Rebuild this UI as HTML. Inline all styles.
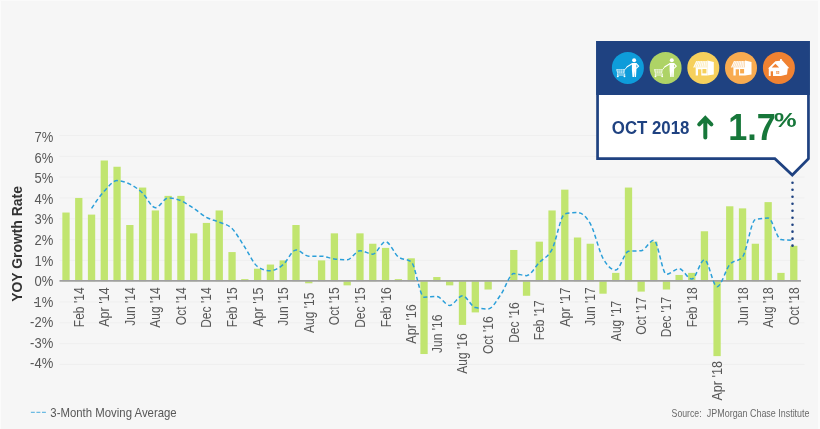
<!DOCTYPE html>
<html lang="en"><head><meta charset="utf-8"><title>YOY Growth Rate</title>
<style>html,body{margin:0;padding:0;background:#f6f6f6;}body{width:820px;height:429px;overflow:hidden;}svg{display:block;filter:blur(0.35px);}</style>
</head><body>
<svg width="820" height="429" viewBox="0 0 820 429" font-family='"Liberation Sans", Arial, sans-serif'>
<rect width="820" height="429" fill="#f6f6f6"/>
<rect x="0" y="0" width="1" height="429" fill="#fbfbfb"/><rect x="0" y="0" width="820" height="1" fill="#fafafa"/><rect x="818" y="0" width="2" height="429" fill="#fbfbfb"/>
<line x1="59.5" x2="804.5" y1="364.44" y2="364.44" stroke="#efefef" stroke-width="1"/>
<line x1="59.5" x2="804.5" y1="343.63" y2="343.63" stroke="#efefef" stroke-width="1"/>
<line x1="59.5" x2="804.5" y1="322.82" y2="322.82" stroke="#efefef" stroke-width="1"/>
<line x1="59.5" x2="804.5" y1="302.01" y2="302.01" stroke="#efefef" stroke-width="1"/>
<line x1="59.5" x2="804.5" y1="260.39" y2="260.39" stroke="#efefef" stroke-width="1"/>
<line x1="59.5" x2="804.5" y1="239.58" y2="239.58" stroke="#efefef" stroke-width="1"/>
<line x1="59.5" x2="804.5" y1="218.77" y2="218.77" stroke="#efefef" stroke-width="1"/>
<line x1="59.5" x2="804.5" y1="197.96" y2="197.96" stroke="#efefef" stroke-width="1"/>
<line x1="59.5" x2="804.5" y1="177.15" y2="177.15" stroke="#efefef" stroke-width="1"/>
<line x1="59.5" x2="804.5" y1="156.34" y2="156.34" stroke="#efefef" stroke-width="1"/>
<line x1="59.5" x2="804.5" y1="135.53" y2="135.53" stroke="#efefef" stroke-width="1"/>
<rect x="62.35" y="212.53" width="7.3" height="68.67" fill="#c1e56f"/>
<rect x="75.12" y="197.96" width="7.3" height="83.24" fill="#c1e56f"/>
<rect x="87.89" y="214.61" width="7.3" height="66.59" fill="#c1e56f"/>
<rect x="100.65" y="160.50" width="7.3" height="120.70" fill="#c1e56f"/>
<rect x="113.42" y="166.75" width="7.3" height="114.45" fill="#c1e56f"/>
<rect x="126.19" y="225.01" width="7.3" height="56.19" fill="#c1e56f"/>
<rect x="138.96" y="187.56" width="7.3" height="93.64" fill="#c1e56f"/>
<rect x="151.73" y="210.45" width="7.3" height="70.75" fill="#c1e56f"/>
<rect x="164.49" y="195.88" width="7.3" height="85.32" fill="#c1e56f"/>
<rect x="177.26" y="195.88" width="7.3" height="85.32" fill="#c1e56f"/>
<rect x="190.03" y="233.34" width="7.3" height="47.86" fill="#c1e56f"/>
<rect x="202.80" y="222.93" width="7.3" height="58.27" fill="#c1e56f"/>
<rect x="215.59" y="210.45" width="7.3" height="70.75" fill="#c1e56f"/>
<rect x="228.39" y="252.07" width="7.3" height="29.13" fill="#c1e56f"/>
<rect x="241.18" y="279.12" width="7.3" height="2.08" fill="#c1e56f"/>
<rect x="253.97" y="268.71" width="7.3" height="12.49" fill="#c1e56f"/>
<rect x="266.77" y="264.55" width="7.3" height="16.65" fill="#c1e56f"/>
<rect x="279.56" y="260.39" width="7.3" height="20.81" fill="#c1e56f"/>
<rect x="292.35" y="225.01" width="7.3" height="56.19" fill="#c1e56f"/>
<rect x="305.15" y="281.20" width="7.3" height="2.08" fill="#c1e56f"/>
<rect x="317.94" y="260.39" width="7.3" height="20.81" fill="#c1e56f"/>
<rect x="330.74" y="233.34" width="7.3" height="47.86" fill="#c1e56f"/>
<rect x="343.53" y="281.20" width="7.3" height="4.16" fill="#c1e56f"/>
<rect x="356.32" y="233.34" width="7.3" height="47.86" fill="#c1e56f"/>
<rect x="369.12" y="243.74" width="7.3" height="37.46" fill="#c1e56f"/>
<rect x="381.91" y="247.90" width="7.3" height="33.30" fill="#c1e56f"/>
<rect x="394.73" y="279.12" width="7.3" height="2.08" fill="#c1e56f"/>
<rect x="407.55" y="258.31" width="7.3" height="22.89" fill="#c1e56f"/>
<rect x="420.38" y="281.20" width="7.3" height="72.83" fill="#c1e56f"/>
<rect x="433.20" y="277.04" width="7.3" height="4.16" fill="#c1e56f"/>
<rect x="446.02" y="281.20" width="7.3" height="4.16" fill="#c1e56f"/>
<rect x="458.84" y="281.20" width="7.3" height="43.70" fill="#c1e56f"/>
<rect x="471.66" y="281.20" width="7.3" height="31.21" fill="#c1e56f"/>
<rect x="484.49" y="281.20" width="7.3" height="8.32" fill="#c1e56f"/>
<rect x="510.13" y="249.98" width="7.3" height="31.22" fill="#c1e56f"/>
<rect x="522.89" y="281.20" width="7.3" height="14.57" fill="#c1e56f"/>
<rect x="535.64" y="241.66" width="7.3" height="39.54" fill="#c1e56f"/>
<rect x="548.40" y="210.45" width="7.3" height="70.75" fill="#c1e56f"/>
<rect x="561.15" y="189.64" width="7.3" height="91.56" fill="#c1e56f"/>
<rect x="573.89" y="237.50" width="7.3" height="43.70" fill="#c1e56f"/>
<rect x="586.63" y="243.74" width="7.3" height="37.46" fill="#c1e56f"/>
<rect x="599.37" y="281.20" width="7.3" height="12.49" fill="#c1e56f"/>
<rect x="612.10" y="272.88" width="7.3" height="8.32" fill="#c1e56f"/>
<rect x="624.84" y="187.56" width="7.3" height="93.64" fill="#c1e56f"/>
<rect x="637.50" y="281.20" width="7.3" height="10.40" fill="#c1e56f"/>
<rect x="650.15" y="241.66" width="7.3" height="39.54" fill="#c1e56f"/>
<rect x="662.81" y="281.20" width="7.3" height="8.32" fill="#c1e56f"/>
<rect x="675.46" y="274.96" width="7.3" height="6.24" fill="#c1e56f"/>
<rect x="688.12" y="272.88" width="7.3" height="8.32" fill="#c1e56f"/>
<rect x="700.78" y="231.26" width="7.3" height="49.94" fill="#c1e56f"/>
<rect x="713.43" y="281.20" width="7.3" height="74.92" fill="#c1e56f"/>
<rect x="726.09" y="206.28" width="7.3" height="74.92" fill="#c1e56f"/>
<rect x="738.89" y="208.37" width="7.3" height="72.83" fill="#c1e56f"/>
<rect x="751.70" y="243.74" width="7.3" height="37.46" fill="#c1e56f"/>
<rect x="764.51" y="202.12" width="7.3" height="79.08" fill="#c1e56f"/>
<rect x="777.32" y="272.88" width="7.3" height="8.32" fill="#c1e56f"/>
<rect x="790.13" y="245.82" width="7.3" height="35.38" fill="#c1e56f"/>
<line x1="59.5" x2="801" y1="280.95" y2="280.95" stroke="#a0a0a0" stroke-width="1.8"/>
<path d="M91.54,208.37 C95.79,202.01 100.05,195.65 104.30,191.02 C108.56,186.40 112.82,180.62 117.07,180.62 C121.33,180.62 125.58,182.01 129.84,184.09 C134.10,186.17 138.35,189.17 142.61,193.10 C146.86,197.04 151.12,207.67 155.38,207.67 C159.63,207.67 163.89,197.96 168.14,197.96 C172.40,197.96 176.66,199.00 180.91,200.73 C185.17,202.47 189.42,205.59 193.68,208.37 C197.94,211.14 202.19,215.07 206.45,217.38 C210.71,219.70 214.98,220.39 219.24,222.24 C223.51,224.09 227.77,224.32 232.04,228.48 C236.30,232.64 240.56,240.85 244.83,247.21 C249.09,253.57 253.36,263.86 257.62,266.63 C261.89,269.41 266.15,270.80 270.42,270.80 C274.68,270.80 278.95,268.02 283.21,264.55 C287.47,261.08 291.74,249.98 296.00,249.98 C300.27,249.98 304.53,256.23 308.80,256.23 C313.06,256.23 317.33,256.23 321.59,256.23 C325.86,256.23 330.12,258.54 334.39,259.00 C338.65,259.47 342.91,259.70 347.18,259.70 C351.44,259.70 355.71,250.68 359.97,250.68 C364.24,250.68 368.50,254.15 372.77,254.15 C377.03,254.15 381.30,241.66 385.56,241.66 C389.83,241.66 394.11,253.68 398.38,256.92 C402.66,260.16 406.93,258.54 411.20,261.78 C415.48,265.01 419.75,297.15 424.03,297.15 C428.30,297.15 432.57,296.46 436.85,296.46 C441.12,296.46 445.40,305.48 449.67,305.48 C453.94,305.48 458.22,295.77 462.49,295.77 C466.77,295.77 471.04,306.63 475.31,307.56 C479.59,308.48 483.86,308.95 488.14,308.95 C492.41,308.95 496.68,300.28 500.96,294.38 C505.23,288.48 509.51,273.57 513.78,273.57 C518.03,273.57 522.28,275.65 526.54,275.65 C530.79,275.65 535.04,266.86 539.29,262.47 C543.54,258.08 547.79,257.38 552.05,249.29 C556.30,241.20 560.55,214.84 564.80,213.91 C569.05,212.99 573.29,212.53 577.54,212.53 C581.79,212.53 586.03,216.23 590.28,223.63 C594.52,231.02 598.77,250.56 603.02,258.31 C607.26,266.05 611.51,270.10 615.75,270.10 C620.00,270.10 624.25,251.84 628.49,251.37 C632.71,250.91 636.93,251.14 641.15,250.68 C645.37,250.22 649.58,240.27 653.80,240.27 C658.02,240.27 662.24,274.26 666.46,274.26 C670.68,274.26 674.90,268.71 679.11,268.71 C683.33,268.71 687.55,279.12 691.77,279.12 C695.99,279.12 700.21,259.70 704.43,259.70 C708.64,259.70 712.86,286.75 717.08,286.75 C721.30,286.75 725.52,269.51 729.74,264.55 C734.01,259.54 738.27,262.01 742.54,256.92 C746.81,251.83 751.08,220.39 755.35,219.46 C759.62,218.54 763.89,218.08 768.16,218.08 C772.43,218.08 776.70,239.12 780.97,239.58 C785.24,240.04 789.51,240.16 793.78,240.27" fill="none" stroke="#2b9fd9" stroke-width="1.5" stroke-dasharray="4.2 2.8"/>
<text transform="translate(53.2,368.49) scale(0.93,1)" text-anchor="end" font-size="14" fill="#585858">-4%</text>
<text transform="translate(53.2,347.90) scale(0.93,1)" text-anchor="end" font-size="14" fill="#585858">-3%</text>
<text transform="translate(53.2,327.31) scale(0.93,1)" text-anchor="end" font-size="14" fill="#585858">-2%</text>
<text transform="translate(33.5,306.72) scale(0.93,1)" font-size="14" fill="#585858">-</text>
<text transform="translate(53.2,306.72) scale(0.93,1)" text-anchor="end" font-size="14" fill="#585858">1%</text>
<text transform="translate(53.2,286.13) scale(0.93,1)" text-anchor="end" font-size="14" fill="#585858">0%</text>
<text transform="translate(53.2,265.54) scale(0.93,1)" text-anchor="end" font-size="14" fill="#585858">1%</text>
<text transform="translate(53.2,244.95) scale(0.93,1)" text-anchor="end" font-size="14" fill="#585858">2%</text>
<text transform="translate(53.2,224.36) scale(0.93,1)" text-anchor="end" font-size="14" fill="#585858">3%</text>
<text transform="translate(53.2,203.77) scale(0.93,1)" text-anchor="end" font-size="14" fill="#585858">4%</text>
<text transform="translate(53.2,183.18) scale(0.93,1)" text-anchor="end" font-size="14" fill="#585858">5%</text>
<text transform="translate(53.2,162.59) scale(0.93,1)" text-anchor="end" font-size="14" fill="#585858">6%</text>
<text transform="translate(53.2,142.00) scale(0.93,1)" text-anchor="end" font-size="14" fill="#585858">7%</text>
<text transform="translate(21.9,244) rotate(-90) scale(0.928,1)" text-anchor="middle" font-size="15" font-weight="bold" fill="#333">YOY Growth Rate</text>
<text transform="translate(83.77,287.40) rotate(-90) scale(0.86,1)" text-anchor="end" font-size="14" fill="#585858">Feb '14</text>
<text transform="translate(109.30,287.40) rotate(-90) scale(0.9,1)" text-anchor="end" font-size="14" fill="#585858">Apr '14</text>
<text transform="translate(134.84,287.40) rotate(-90) scale(0.86,1)" text-anchor="end" font-size="14" fill="#585858">Jun '14</text>
<text transform="translate(160.38,287.40) rotate(-90) scale(0.86,1)" text-anchor="end" font-size="14" fill="#585858">Aug '14</text>
<text transform="translate(185.91,287.40) rotate(-90) scale(0.86,1)" text-anchor="end" font-size="14" fill="#585858">Oct '14</text>
<text transform="translate(211.45,287.40) rotate(-90) scale(0.86,1)" text-anchor="end" font-size="14" fill="#585858">Dec '14</text>
<text transform="translate(237.04,287.40) rotate(-90) scale(0.86,1)" text-anchor="end" font-size="14" fill="#585858">Feb '15</text>
<text transform="translate(262.62,287.40) rotate(-90) scale(0.9,1)" text-anchor="end" font-size="14" fill="#585858">Apr '15</text>
<text transform="translate(288.21,287.40) rotate(-90) scale(0.86,1)" text-anchor="end" font-size="14" fill="#585858">Jun '15</text>
<text transform="translate(313.80,292.50) rotate(-90) scale(0.86,1)" text-anchor="end" font-size="14" fill="#585858">Aug '15</text>
<text transform="translate(339.39,287.40) rotate(-90) scale(0.86,1)" text-anchor="end" font-size="14" fill="#585858">Oct '15</text>
<text transform="translate(364.97,287.40) rotate(-90) scale(0.86,1)" text-anchor="end" font-size="14" fill="#585858">Dec '15</text>
<text transform="translate(390.56,287.40) rotate(-90) scale(0.86,1)" text-anchor="end" font-size="14" fill="#585858">Feb '16</text>
<text transform="translate(416.20,304.20) rotate(-90) scale(0.9,1)" text-anchor="end" font-size="14" fill="#585858">Apr '16</text>
<text transform="translate(441.85,314.60) rotate(-90) scale(0.86,1)" text-anchor="end" font-size="14" fill="#585858">Jun '16</text>
<text transform="translate(467.49,333.30) rotate(-90) scale(0.86,1)" text-anchor="end" font-size="14" fill="#585858">Aug '16</text>
<text transform="translate(493.14,316.30) rotate(-90) scale(0.86,1)" text-anchor="end" font-size="14" fill="#585858">Oct '16</text>
<text transform="translate(518.78,302.40) rotate(-90) scale(0.86,1)" text-anchor="end" font-size="14" fill="#585858">Dec '16</text>
<text transform="translate(544.29,300.40) rotate(-90) scale(0.86,1)" text-anchor="end" font-size="14" fill="#585858">Feb '17</text>
<text transform="translate(569.80,287.40) rotate(-90) scale(0.9,1)" text-anchor="end" font-size="14" fill="#585858">Apr '17</text>
<text transform="translate(595.28,287.40) rotate(-90) scale(0.86,1)" text-anchor="end" font-size="14" fill="#585858">Jun '17</text>
<text transform="translate(620.75,300.70) rotate(-90) scale(0.86,1)" text-anchor="end" font-size="14" fill="#585858">Aug '17</text>
<text transform="translate(646.15,297.00) rotate(-90) scale(0.86,1)" text-anchor="end" font-size="14" fill="#585858">Oct '17</text>
<text transform="translate(671.46,296.80) rotate(-90) scale(0.86,1)" text-anchor="end" font-size="14" fill="#585858">Dec '17</text>
<text transform="translate(696.77,287.40) rotate(-90) scale(0.86,1)" text-anchor="end" font-size="14" fill="#585858">Feb '18</text>
<text transform="translate(722.08,361.10) rotate(-90) scale(0.9,1)" text-anchor="end" font-size="14" fill="#585858">Apr '18</text>
<text transform="translate(747.54,287.40) rotate(-90) scale(0.86,1)" text-anchor="end" font-size="14" fill="#585858">Jun '18</text>
<text transform="translate(773.16,287.40) rotate(-90) scale(0.86,1)" text-anchor="end" font-size="14" fill="#585858">Aug '18</text>
<text transform="translate(798.78,287.40) rotate(-90) scale(0.86,1)" text-anchor="end" font-size="14" fill="#585858">Oct '18</text>
<line x1="30.9" x2="45.9" y1="412.3" y2="412.3" stroke="#2b9fd9" stroke-width="1" stroke-opacity="0.85" stroke-dasharray="3.9 1.65"/>
<text transform="translate(50.35,417.0) scale(0.95,1)" font-size="12" fill="#585858">3-Month Moving Average</text>
<text transform="translate(671.6,417.2) scale(0.855,1)" font-size="10.2" fill="#6a6a6a">Source:</text>
<text transform="translate(809.5,417.2) scale(0.875,1)" text-anchor="end" font-size="10.2" fill="#6a6a6a">JPMorgan Chase Institute</text>
<line x1="792.5" x2="792.5" y1="182.8" y2="246" stroke="#1f4281" stroke-width="2.6" stroke-linecap="round" stroke-dasharray="0.01 6.97"/>
<path d="M597.55,42.35 H808.45 V158.65 L792.3,175.0 L774.9,158.65 H597.55 Z" fill="#ffffff" stroke="#1f4281" stroke-width="2.7" stroke-linejoin="miter"/>
<rect x="596.2" y="41" width="213.6" height="54" fill="#1f4281"/>
<g transform="translate(627.9,67.9)"><circle r="16" fill="#0e9cda"/><g fill="#fff" stroke="none">
<circle cx="6.2" cy="-7.7" r="2"/>
<path d="M4,-5 H8.5 V2.2 L8.1,9.2 H6.7 L6.45,3 L6.1,9.2 H4.6 L4,2.2 Z"/>
<path d="M4.6,-4.3 L-0.7,-1.2 M8.3,-4.2 L10.7,-1.8 L8.6,0.3" stroke="#fff" stroke-width="1.2" fill="none" stroke-linecap="round" stroke-linejoin="round"/>
<path d="M-0.7,-1.2 L-2.9,1.6" stroke="#fff" stroke-width="0.9" fill="none"/>
<path d="M-11.7,1.4 H-2.8 L-3.6,5.6 H-10.6 Z" fill-opacity="0.9"/>
<path d="M-10.9,2.75 H-3.3 M-10.6,4.1 H-3.5 M-9,1.6 V5.4 M-7.2,1.6 V5.4 M-5.4,1.6 V5.4" stroke="#0e9cda" stroke-width="0.45" fill="none"/>
<path d="M-10.3,5.6 V7.1 H-3.2 V5.6" stroke="#fff" stroke-width="0.8" fill="none"/>
<circle cx="-10.1" cy="8.4" r="0.95"/><circle cx="-3.4" cy="8.4" r="0.95"/>
</g></g>
<g transform="translate(665.6,67.9)"><circle r="16" fill="#aed366"/><g fill="#fff" stroke="none">
<circle cx="6.2" cy="-7.7" r="2"/>
<path d="M4,-5 H8.5 V2.2 L8.1,9.2 H6.7 L6.45,3 L6.1,9.2 H4.6 L4,2.2 Z"/>
<path d="M4.6,-4.3 L-0.7,-1.2 M8.3,-4.2 L10.7,-1.8 L8.6,0.3" stroke="#fff" stroke-width="1.2" fill="none" stroke-linecap="round" stroke-linejoin="round"/>
<path d="M-0.7,-1.2 L-2.9,1.6" stroke="#fff" stroke-width="0.9" fill="none"/>
<path d="M-11.7,1.4 H-2.8 L-3.6,5.6 H-10.6 Z" fill-opacity="0.9"/>
<path d="M-10.9,2.75 H-3.3 M-10.6,4.1 H-3.5 M-9,1.6 V5.4 M-7.2,1.6 V5.4 M-5.4,1.6 V5.4" stroke="#aed366" stroke-width="0.45" fill="none"/>
<path d="M-10.3,5.6 V7.1 H-3.2 V5.6" stroke="#fff" stroke-width="0.8" fill="none"/>
<circle cx="-10.1" cy="8.4" r="0.95"/><circle cx="-3.4" cy="8.4" r="0.95"/>
</g></g>
<g transform="translate(703.3,67.9)"><circle r="16" fill="#f6d05c"/><g fill="#fff" stroke="none">
<path d="M-7.2,-6.8 H3.5 L4,-0.5 H-10.2 Z" fill-opacity="0.55"/>
<path d="M-9.4,-0.6 L-6.4,-6.8 M-7.4,-0.6 L-4.8,-6.8 M-5.4,-0.6 L-3.2,-6.8 M-3.4,-0.6 L-1.6,-6.8 M-1.4,-0.6 L0,-6.8 M0.6,-0.6 L1.6,-6.8 M2.6,-0.6 L3.1,-6.8" stroke="#fff" stroke-width="0.9" fill="none"/>
<path d="M-7.6,-0.7 H4 V7.6 H-2 V1.3 H-5.3 V7.6 H-7.6 Z"/>
<rect x="-0.9" y="1.1" width="4.0" height="4.4" fill="#f6d05c"/>
<path d="M4,-7.3 L10.5,-5.9 V6.7 L4,7.6 Z"/>
</g></g>
<g transform="translate(741.0,67.9)"><circle r="16" fill="#f8ab50"/><g fill="#fff" stroke="none">
<path d="M-7.2,-6.8 H3.5 L4,-0.5 H-10.2 Z" fill-opacity="0.55"/>
<path d="M-9.4,-0.6 L-6.4,-6.8 M-7.4,-0.6 L-4.8,-6.8 M-5.4,-0.6 L-3.2,-6.8 M-3.4,-0.6 L-1.6,-6.8 M-1.4,-0.6 L0,-6.8 M0.6,-0.6 L1.6,-6.8 M2.6,-0.6 L3.1,-6.8" stroke="#fff" stroke-width="0.9" fill="none"/>
<path d="M-7.6,-0.7 H4 V7.6 H-2 V1.3 H-5.3 V7.6 H-7.6 Z"/>
<rect x="-0.9" y="1.1" width="4.0" height="4.4" fill="#f8ab50"/>
<path d="M4,-7.3 L10.5,-5.9 V6.7 L4,7.6 Z"/>
</g></g>
<g transform="translate(778.9,67.9)"><circle r="16" fill="#f08232"/><g fill="#fff" stroke="none">
<rect x="1.1" y="-8.8" width="1.9" height="3.4"/>
<path d="M-3.5,-6.6 L3.4,-7.4 L10.4,0.4 L8.9,0.4 L8.1,6.7 L2,8.1 H-10.1 V0.5 H-10.9 Z"/>
<path d="M-3.5,-4.1 L-7.2,-0.5 H0.2 Z" fill="#f08232"/>
<rect x="-8.2" y="3.4" width="2.3" height="4.8" fill="#f08232"/>
<rect x="-2.7" y="3.3" width="3" height="2.5" fill="#f08232"/>
<path d="M-1.2,3.3 V5.8 M-2.7,4.55 H0.3" stroke="#fff" stroke-width="0.45"/>
</g></g>
<text transform="translate(611.8,134.2) scale(0.885,1)" font-size="19" font-weight="bold" fill="#1f4281">OCT 2018</text>
<path d="M705.3,137.6 V118.5 M699.2,124.3 L705.3,118.2 L711.4,124.3" fill="none" stroke="#17773a" stroke-width="4" stroke-linejoin="miter" stroke-linecap="round"/>
<text transform="translate(728.3,139.7) scale(0.95,1)" font-size="36" font-weight="bold" fill="#17773a">1.7</text>
<text transform="translate(773.9,126.8) scale(1.24,1)" font-size="20.5" font-weight="bold" fill="#17773a">%</text>
</svg>
</body></html>
